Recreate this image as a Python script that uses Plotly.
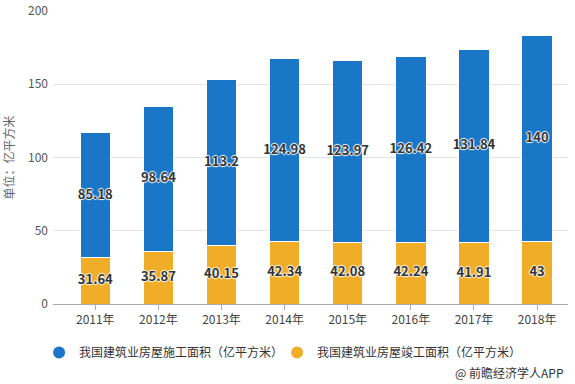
import plotly.graph_objects as go

years = ["2011年", "2012年", "2013年", "2014年", "2015年", "2016年", "2017年", "2018年"]
completed = [31.64, 35.87, 40.15, 42.34, 42.08, 42.24, 41.91, 43]
construction = [85.18, 98.64, 113.2, 124.98, 123.97, 126.42, 131.84, 140]
name_con = "我国建筑业房屋施工面积（亿平方米）"
name_comp = "我国建筑业房屋竣工面积（亿平方米）"

blue = "#1a76c6"
orange = "#f0ad28"
font = "Noto Sans CJK SC, Noto Sans, sans-serif"
halo = "1px 0px 1px #fff, -1px 0px 1px #fff, 0px 1px 1px #fff, 0px -1px 1px #fff"
lblfont = dict(color="#333", size=13, family=font, weight="bold", shadow=halo)

fig = go.Figure()
fig.add_trace(go.Bar(
    x=years, y=completed, name=name_comp, marker=dict(color=orange, line=dict(color="#fff", width=1)),
    showlegend=False, hoverinfo="y",
))
fig.add_trace(go.Bar(
    x=years, y=construction, name=name_con, marker=dict(color=blue, line=dict(color="#fff", width=1)),
    showlegend=False, hoverinfo="y",
))
# segment labels, centred in each stacked segment
fig.add_trace(go.Scatter(
    x=years, y=[c / 2 for c in completed], mode="text",
    text=[f"{v:g}" for v in completed], textposition="middle center",
    textfont=lblfont, showlegend=False, hoverinfo="skip",
))
fig.add_trace(go.Scatter(
    x=years, y=[c + s / 2 for c, s in zip(completed, construction)], mode="text",
    text=[f"{v:g}" for v in construction], textposition="middle center",
    textfont=lblfont, showlegend=False, hoverinfo="skip",
))
# legend entries with circle markers
fig.add_trace(go.Scatter(x=[None], y=[None], mode="markers", name=name_con,
                         marker=dict(color=blue, size=12, symbol="circle")))
fig.add_trace(go.Scatter(x=[None], y=[None], mode="markers", name=name_comp,
                         marker=dict(color=orange, size=12, symbol="circle")))

fig.update_layout(
    barmode="stack", bargap=0.52,
    width=575, height=384,
    margin=dict(l=53, r=7, t=11, b=80, autoexpand=False),
    paper_bgcolor="#fff", plot_bgcolor="#fff",
    font=dict(family=font, size=12, color="#333"),
    legend=dict(orientation="h", x=-0.027, xanchor="left", y=-0.116, yanchor="top",
                font=dict(size=12, color="#333"), entrywidth=193, entrywidthmode="pixels",
                tracegroupgap=0, traceorder="normal"),
    annotations=[dict(text="@ 前瞻经济学人APP", xref="paper", yref="paper",
                      x=0.997, y=-0.198, xanchor="right", yanchor="top", showarrow=False,
                      font=dict(size=12, color="#333"))],
)
fig.update_xaxes(
    range=[-0.67, 7.49], showgrid=False, showline=True, linecolor="#aaa", linewidth=1,
    ticks="outside", ticklen=5, tickcolor="#aaa", tickfont=dict(size=12, color="#444"),
    fixedrange=True, automargin=False,
)
fig.update_yaxes(
    range=[0, 200], dtick=50, showgrid=True, gridcolor="#e3e3e3", zeroline=False,
    showline=False, tickfont=dict(size=12, color="#555"), ticks="", ticklabelstandoff=4,
    title=dict(text="单位：亿平方米", font=dict(size=12, color="#666"), standoff=14),
    fixedrange=True, automargin=False,
)

fig.write_html("out.html", config={"displayModeBar": False},
               post_script="document.body.style.margin='0';")
